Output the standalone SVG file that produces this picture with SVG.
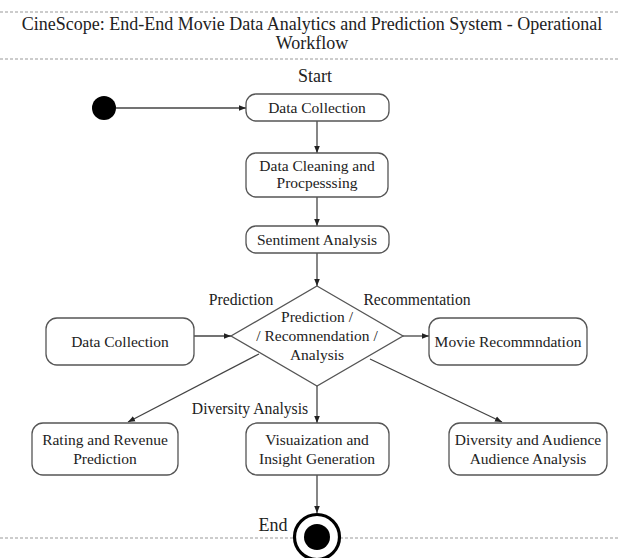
<svg xmlns="http://www.w3.org/2000/svg" width="620" height="558" viewBox="0 0 620 558">
<defs>
<style>
text{font-family:"Liberation Serif","Times New Roman",serif;fill:#222;text-anchor:middle}
.t{font-size:18px}
.n{font-size:15.5px}
.l{font-size:15.7px}
.s{font-size:18px}
.box{fill:#fff;stroke:#555;stroke-width:1.3}
.c{stroke:#444;stroke-width:1.3;fill:none;marker-end:url(#ah)}
.dash{stroke:#999;stroke-width:1;stroke-dasharray:3 2}
</style>
<marker id="ah" viewBox="0 0 10 10" refX="10" refY="5" markerWidth="7" markerHeight="7" orient="auto" markerUnits="userSpaceOnUse">
<path d="M0,1 L10,5 L0,9 z" fill="#222"/>
</marker>
</defs>
<rect width="620" height="558" fill="#fff"/>
<g id="title">
<line class="dash" x1="0" y1="12" x2="620" y2="12"/>
<text class="t" x="312" y="30">CineScope: End-End Movie Data Analytics and Prediction System - Operational</text>
<text class="t" x="312" y="49">Workflow</text>
<line class="dash" x1="0" y1="59" x2="620" y2="59"/>
</g>
<g id="connectors">
<line class="c" x1="116" y1="108" x2="246" y2="108"/>
<line class="c" x1="317" y1="121" x2="317" y2="153"/>
<line class="c" x1="317" y1="197" x2="317" y2="226"/>
<line class="c" x1="317" y1="253" x2="317" y2="286"/>
<line class="c" x1="194" y1="336" x2="231" y2="336"/>
<line class="c" x1="403" y1="336" x2="429" y2="336"/>
<line class="c" x1="259" y1="354" x2="128" y2="422"/>
<line class="c" x1="317" y1="386" x2="317" y2="423"/>
<line class="c" x1="370" y1="359" x2="502" y2="422"/>
<line class="c" x1="317" y1="475" x2="317" y2="513"/>
<text class="l" x="241" y="305">Prediction</text>
<text class="l" x="417" y="305">Recommentation</text>
<text class="l" x="250" y="414">Diversity Analysis</text>
</g>
<g id="start">
<text class="s" x="315" y="82">Start</text>
<circle cx="104" cy="108" r="12" fill="#000"/>
</g>
<g id="data-collection">
<rect class="box" x="246" y="94" width="143" height="27" rx="10"/>
<text class="n" x="317" y="113">Data Collection</text>
</g>
<g id="data-cleaning">
<rect class="box" x="246" y="153" width="142" height="44" rx="10"/>
<text class="n" x="317" y="171">Data Cleaning and</text>
<text class="n" x="317" y="188">Procpesssing</text>
</g>
<g id="sentiment">
<rect class="box" x="246" y="226" width="143" height="27" rx="10"/>
<text class="n" x="317" y="245">Sentiment Analysis</text>
</g>
<g id="decision">
<polygon points="317,286 403,336 317,386 231,336" fill="#fff" stroke="#555" stroke-width="1.3"/>
<text class="n" x="317" y="322">Prediction /</text>
<text class="n" x="317" y="341">/ Recomnendation /</text>
<text class="n" x="317" y="360">Analysis</text>
</g>
<g id="data-collection-2">
<rect class="box" x="46" y="318" width="148" height="47" rx="11"/>
<text class="n" x="120" y="347">Data Collection</text>
</g>
<g id="movie-rec">
<rect class="box" x="429" y="318" width="158" height="47" rx="11"/>
<text class="n" x="508" y="347">Movie Recommndation</text>
</g>
<g id="rating">
<rect class="box" x="32" y="423" width="146" height="52" rx="11"/>
<text class="n" x="105" y="445">Rating and Revenue</text>
<text class="n" x="105" y="464">Prediction</text>
</g>
<g id="visualization">
<rect class="box" x="246" y="423" width="143" height="52" rx="11"/>
<text class="n" x="317" y="445">Visuaization and</text>
<text class="n" x="317" y="464">Insight Generation</text>
</g>
<g id="diversity">
<rect class="box" x="449" y="423" width="158" height="52" rx="11"/>
<text class="n" x="528" y="445">Diversity and Audience</text>
<text class="n" x="528" y="464">Audience Analysis</text>
</g>
<g id="end">
<line class="dash" x1="0" y1="538" x2="620" y2="538"/>
<text class="s" x="273" y="531">End</text>
<circle cx="317" cy="537" r="22.5" fill="#fff" stroke="#000" stroke-width="3.2"/>
<circle cx="317" cy="537" r="13" fill="#000"/>
</g>
</svg>
